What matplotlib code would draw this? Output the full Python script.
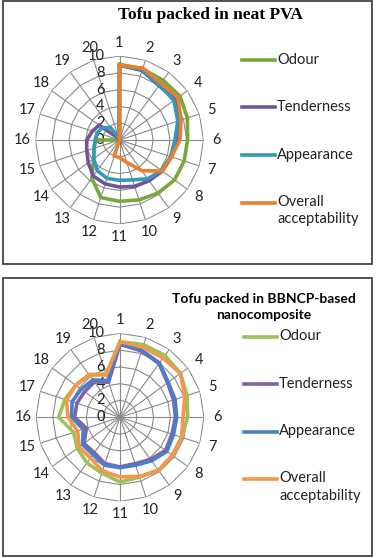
'''
sensory radar charts for tofu packed in two films
'''
import numpy as np
import matplotlib
matplotlib.use('Agg')
import matplotlib.pyplot as plt
from matplotlib.lines import Line2D
from matplotlib.patches import Rectangle
import matplotlib.transforms as mtransforms

# sample / day numbers round the radar
attributes = [str(i) for i in range(1, 21)]
series_names = ['Odour', 'Tenderness', 'Appearance', 'Overall\nacceptability']
radial_ticks = [0, 2, 4, 6, 8, 10]

# tofu packed in neat PVA
pva_odour = [9.0, 8.9, 8.8, 8.9, 8.5, 8.1, 8.1, 8.1, 7.8, 7.5,
             7.3, 7.2, 5.6, 3.8, 3.2, 2.8, 0, 0, 0, 0]
pva_tenderness = [8.9, 8.7, 8.0, 8.2, 7.4, 6.9, 6.5, 6.3, 6.0, 5.8,
                  5.6, 5.5, 5.3, 4.6, 4.1, 3.9, 3.4, 3.0, 0.3, 0]
pva_appearance = [8.9, 8.8, 8.1, 8.0, 7.3, 6.6, 6.4, 6.2, 5.7, 5.0,
                  4.8, 4.8, 4.5, 3.8, 3.2, 2.9, 2.8, 2.5, 1.8, 0.3]
pva_overall = [8.9, 9.0, 8.4, 8.6, 7.7, 7.2, 6.5, 6.3, 4.5, 2.8,
               2.1, 2.0, 0, 0, 0, 0, 0, 0, 0, 0]

# tofu packed in BBNCP-based nanocomposite
bb_odour = [9.0, 9.1, 9.1, 8.9, 8.4, 8.05, 7.7, 7.7, 7.8, 7.5,
            7.7, 7.0, 6.7, 6.3, 5.8, 7.3, 6.9, 6.5, 6.3, 5.4]
bb_tenderness = [8.7, 8.3, 7.9, 7.0, 6.7, 6.6, 6.5, 6.7, 6.2, 5.8,
                 5.9, 5.8, 5.2, 5.3, 4.2, 5.4, 5.4, 5.2, 5.2, 4.4]
bb_appearance = [8.8, 8.4, 8.0, 7.1, 6.9, 6.75, 6.7, 6.9, 6.4, 6.0,
                 6.0, 6.0, 5.5, 5.5, 4.6, 5.75, 6.0, 5.7, 5.5, 4.6]
bb_overall = [9.0, 8.8, 8.7, 8.9, 8.1, 7.5, 7.7, 7.7, 7.8, 7.4,
              7.1, 6.7, 6.0, 6.0, 5.3, 6.2, 6.7, 6.5, 6.2, 5.3]

W, H = 377, 558
FONT = 'Lato'


def fx(px):
    return px / W


def fy(py):
    return 1 - py / H


def radar(fig, cx, cy, series, colors):
    ''' one radar chart with polygon grid, centred at pixel (cx, cy) '''
    rad = 84
    ax = fig.add_axes([fx(cx - rad), fy(cy + rad), 2 * rad / W, 2 * rad / H],
                      projection='polar')
    ax.set_theta_zero_location('N')
    ax.set_theta_direction(-1)
    ax.set_ylim(0, 10)
    ax.grid(False)
    ax.spines['polar'].set_visible(False)
    ax.patch.set_alpha(0)

    n = len(attributes)
    angles = np.linspace(0, 2 * np.pi, n, endpoint=False)
    closed = np.append(angles, angles[0])

    # polygon rings and spokes
    for r in radial_ticks[1:]:
        ax.plot(closed, [r] * (n + 1), color='#8a8a8a', lw=0.8, zorder=1)
    for a in angles:
        ax.plot([a, a], [0, 10], color='#8a8a8a', lw=0.8, zorder=1)

    for vals, col in zip(series, colors):
        v = np.append(vals, vals[0])
        ax.plot(closed, v, color=col, lw=2.6, solid_joinstyle='miter', zorder=3)

    ax.set_xticks(angles)
    ax.set_xticklabels(attributes, fontsize=10.5, family=FONT, color='#222222')
    ax.tick_params(axis='x', pad=2.5, length=0)
    ax.set_yticks([])

    off = mtransforms.offset_copy(ax.transData, fig=fig, x=-15, y=0, units='dots')
    for r in radial_ticks:
        ax.text(0, r, str(r), transform=off, ha='right', va='center',
                fontsize=10.5, family=FONT, color='#222222', zorder=2)
    return ax


def legend(fig, x, ys, colors):
    ''' Excel style legend: short line then the label '''
    for name, y, col in zip(series_names, ys, colors):
        fig.add_artist(Line2D([fx(x), fx(x + 33)], [fy(y), fy(y)],
                              color=col, lw=2.6, transform=fig.transFigure))
        fig.text(fx(x + 35), fy(y - 7.5), name, ha='left', va='top',
                 fontsize=10.5, family=FONT, color='#222222', linespacing=1.3)


def main():
    fig = plt.figure(figsize=(W / 100, H / 100), dpi=100)

    # panel frames
    fig.add_artist(Rectangle((fx(3), fy(264)), fx(369), 263 / H, fill=False,
                             ec='#444444', lw=1.3, transform=fig.transFigure))
    fig.add_artist(Rectangle((fx(3), fy(556)), fx(369), 278 / H, fill=False,
                             ec='#444444', lw=1.3, transform=fig.transFigure))

    top_colors = ['#78a83a', '#72549a', '#3399b5', '#e8802f']
    bot_colors = ['#9bc35a', '#8064a2', '#4a7ec8', '#f7964a']

    radar(fig, 119.5, 140, [pva_odour, pva_tenderness, pva_appearance, pva_overall],
          top_colors)
    radar(fig, 120, 417.3, [bb_odour, bb_tenderness, bb_appearance, bb_overall],
          bot_colors)

    fig.text(fx(210), fy(15), 'Tofu packed in neat PVA', ha='center', va='center',
             fontsize=12.5, family='Liberation Serif', weight='bold')
    fig.text(fx(264), fy(307), 'Tofu packed in BBNCP-based\nnanocomposite',
             ha='center', va='center', fontsize=10, family=FONT, weight='bold',
             linespacing=1.35)

    legend(fig, 242, [60, 107.3, 155, 202.7], top_colors)
    legend(fig, 244, [336.7, 384.3, 431.7, 479], bot_colors)

    fig.savefig('out.png', dpi=100)


if __name__ == '__main__':
    main()
